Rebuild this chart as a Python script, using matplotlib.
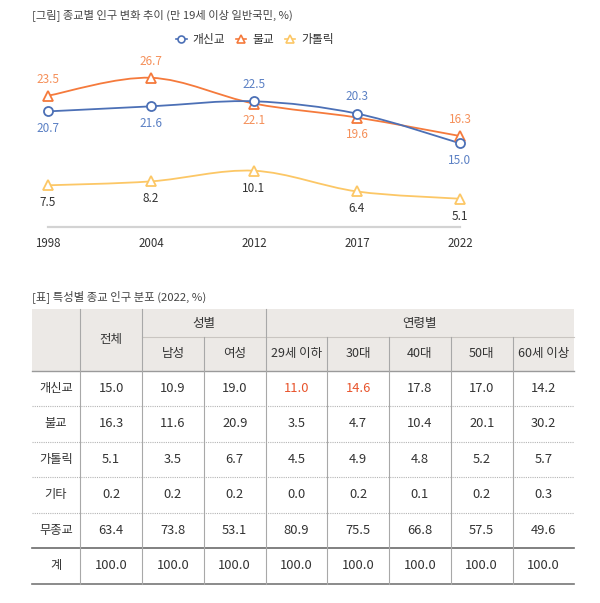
import matplotlib
matplotlib.use("Agg")
import matplotlib.pyplot as plt
import numpy as np
from matplotlib.path import Path
from matplotlib.patches import PathPatch, Rectangle
from matplotlib.lines import Line2D

plt.rcParams['font.family'] = ['Noto Sans CJK KR', 'DejaVu Sans']

# ---- line chart data ----
years = ["1998", "2004", "2012", "2017", "2022"]
protestant = [20.7, 21.6, 22.5, 20.3, 15.0]
buddhist = [23.5, 26.7, 22.1, 19.6, 16.3]
catholic = [7.5, 8.2, 10.1, 6.4, 5.1]
series_names = ["개신교", "불교", "가톨릭"]

# ---- table data ----
row_labels = ["개신교", "불교", "가톨릭", "기타", "무종교", "계"]
col_labels = ["남성", "여성", "29세 이하", "30대", "40대", "50대", "60세 이상"]
table_values = [
    [15.0, 10.9, 19.0, 11.0, 14.6, 17.8, 17.0, 14.2],
    [16.3, 11.6, 20.9, 3.5, 4.7, 10.4, 20.1, 30.2],
    [5.1, 3.5, 6.7, 4.5, 4.9, 4.8, 5.2, 5.7],
    [0.2, 0.2, 0.2, 0.0, 0.2, 0.1, 0.2, 0.3],
    [63.4, 73.8, 53.1, 80.9, 75.5, 66.8, 57.5, 49.6],
    [100.0, 100.0, 100.0, 100.0, 100.0, 100.0, 100.0, 100.0],
]
highlight = [(0, 3), (0, 4)]

W, H = 600, 603
fig = plt.figure(figsize=(W / 100, H / 100), dpi=100)

BLUE = "#4c70b6"
BLUE_T = "#5b80c4"
ORANGE = "#f57a3c"
ORANGE_T = "#f5905a"
YELLOW = "#fcc766"
DARK = "#333333"


def smooth_path(x, y):
    # catmull-rom style curve through the points (like excel smoothed lines)
    pts = np.column_stack([x, y]).astype(float)
    ext = np.vstack([pts[0], pts, pts[-1]])
    verts = [pts[0]]
    codes = [Path.MOVETO]
    for i in range(len(pts) - 1):
        p0, p1, p2, p3 = ext[i], ext[i + 1], ext[i + 2], ext[i + 3]
        verts += [p1 + (p2 - p0) / 6, p2 - (p3 - p1) / 6, p2]
        codes += [Path.CURVE4] * 3
    return Path(verts, codes)


# ---- chart ----
ax_bottom = 227.3
ax_top = 59.0
ax = fig.add_axes([48 / W, 1 - ax_bottom / H, 412 / W, (ax_bottom - ax_top) / H])
ax.set_xlim(0, 4)
ax.set_ylim(0, (ax_bottom - ax_top) / 5.6)
x = np.arange(len(years))

styles = [
    (protestant, BLUE, BLUE_T, "o", ["below", "below", "above", "above", "below"]),
    (buddhist, ORANGE, ORANGE_T, "^", ["above", "above", "below", "below", "above"]),
    (catholic, YELLOW, DARK, "^", ["below"] * 5),
]
for vals, col, tcol, mk, pos in styles[::-1]:
    ax.add_patch(PathPatch(smooth_path(x, vals), fill=False, edgecolor=col,
                           lw=1.3, clip_on=False))
    ax.plot(x, vals, linestyle="none", marker=mk, ms=7 if mk == "^" else 6.5,
            mfc="white", mec=col, mew=1.3, clip_on=False, zorder=3)
    for xi, v, p in zip(x, vals, pos):
        off = 12 if p == "above" else -12.5
        ax.annotate(f"{v:.1f}", (xi, v), xytext=(0, off), textcoords="offset points",
                    ha="center", va="center", fontsize=8.5, color=tcol)

ax.set_xticks(x, years)
ax.tick_params(axis="x", length=0, pad=7, labelsize=8.3, labelcolor=DARK)
ax.set_yticks([])
for s in ["top", "left", "right"]:
    ax.spines[s].set_visible(False)
ax.spines["bottom"].set_color("#d3d3d3")
ax.spines["bottom"].set_linewidth(1.6)

handles = [
    Line2D([], [], color=BLUE, marker="o", ms=5, mfc="white", mew=1.2, lw=1.2),
    Line2D([], [], color=ORANGE, marker="^", ms=5.5, mfc="white", mew=1.2, lw=1.2),
    Line2D([], [], color=YELLOW, marker="^", ms=5.5, mfc="white", mew=1.2, lw=1.2),
]
fig.legend(handles, series_names, loc="center", bbox_to_anchor=(255 / W, 1 - 40 / H),
           ncol=3, frameon=False, handlelength=0.9, handletextpad=0.5,
           columnspacing=0.9, labelcolor=DARK, prop={"weight": "medium", "size": 8.5})

# ---- overlay axes in pixel units for titles and table ----
tx = fig.add_axes([0, 0, 1, 1])
tx.set_xlim(0, W)
tx.set_ylim(H, 0)
tx.axis("off")
tx.patch.set_visible(False)

tx.text(32, 15, "[그림] 종교별 인구 변화 추이 (만 19세 이상 일반국민, %)",
        fontsize=8.1, color="#444444", va="center", ha="left")
tx.text(32, 297, "[표] 특성별 종교 인구 분포 (2022, %)",
        fontsize=8.2, color="#444444", va="center", ha="left")

left = 31.7
first_w = 48.6
col_w = 61.75
top = 309.3
split = 337.3
head_bot = 370.5
row_h = 35.5
ncol = len(table_values[0])
right = left + first_w + col_w * ncol
bottom = head_bot + row_h * len(row_labels)
col_x = [left + first_w + col_w * i for i in range(ncol + 1)]

tx.add_patch(Rectangle((left, top), right - left, head_bot - top,
                       facecolor="#ece9e6", edgecolor="none", zorder=0))
tx.plot([col_x[1], right], [split, split], color="#c9c5c1", lw=0.8)
tx.plot([left, right], [head_bot, head_bot], color="#9a9a9a", lw=1.0)
for i in range(1, len(row_labels) - 1):
    yy = head_bot + row_h * i
    tx.plot([left, right], [yy, yy], color="#b5b5b5", lw=0.8, linestyle=(0, (1, 1)))
yy = head_bot + row_h * (len(row_labels) - 1)
tx.plot([left, right], [yy, yy], color="#6b6b6b", lw=1.2)
tx.plot([left, right], [bottom, bottom], color="#777777", lw=1.2)

for i, cx in enumerate(col_x[:-1]):
    y0 = top if i in (0, 1, 3) else split
    tx.plot([cx, cx], [y0, bottom], color="#a8a8a8", lw=0.8)

# headers
tx.text((col_x[0] + col_x[1]) / 2, (top + head_bot) / 2, "전체", ha="center", va="center",
        fontsize=9, color=DARK, weight="medium")
tx.text((col_x[1] + col_x[3]) / 2, (top + split) / 2, "성별", ha="center", va="center",
        fontsize=9, color=DARK, weight="medium")
tx.text((col_x[3] + col_x[-1]) / 2, (top + split) / 2, "연령별", ha="center", va="center",
        fontsize=9, color=DARK, weight="medium")
for j, lab in enumerate(col_labels):
    tx.text((col_x[j + 1] + col_x[j + 2]) / 2, (split + head_bot) / 2, lab,
            ha="center", va="center", fontsize=9, color=DARK)

# body
for i, lab in enumerate(row_labels):
    cy = head_bot + row_h * (i + 0.5)
    tx.text((left + col_x[0]) / 2, cy, lab, ha="center", va="center",
            fontsize=8.8, color=DARK, weight="medium")
    for j, v in enumerate(table_values[i]):
        c = "#e8542c" if (i, j) in highlight else DARK
        tx.text((col_x[j] + col_x[j + 1]) / 2, cy, f"{v:.1f}", ha="center", va="center",
                fontsize=9.3, color=c)

fig.savefig("out.png", dpi=100)
